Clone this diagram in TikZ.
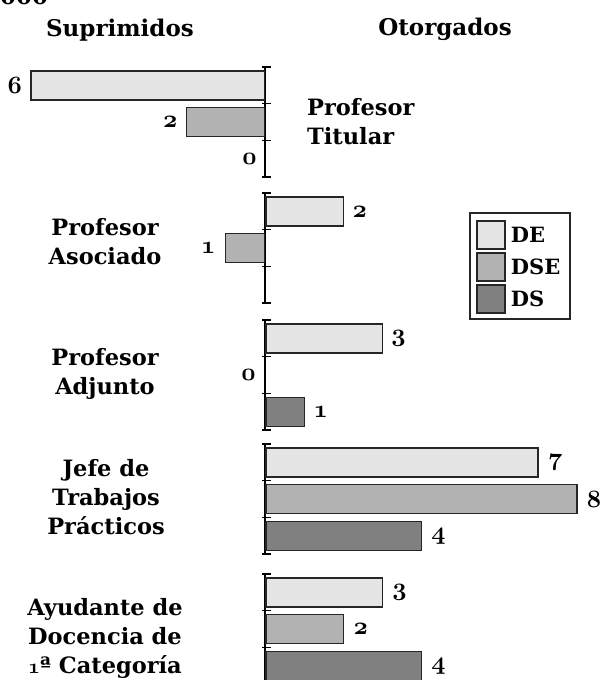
\documentclass[tikz,border=0pt]{standalone}
\usepackage{fontspec}
\usepackage{tikz}
\usetikzlibrary{positioning}
\newfontfamily\djv{DejaVu Serif}
\tikzset{
    bar/.style={
    rectangle,draw=black!85,line width=1.5pt,inner sep=0pt,minimum height=29pt
    },
    debar/.style={
    bar,fill=black!10
    },
    dsebar/.style={
    bar,fill=black!30
    },
    dsbar/.style={
    bar,fill=black!50
    },
    barlen/.style={
    minimum width=#1*38.9pt
    },
    val/.style={
    font=\fontsize{26}{28}\selectfont\bfseries,inner sep=0pt
    },
    cat/.style={
    font=\fontsize{22.5}{29}\selectfont\djv\bfseries,align=center,inner sep=0pt
    },
    head/.style={
    font=\fontsize{23}{28}\selectfont\djv\bfseries,inner sep=0pt
    },
    keytxt/.style={
    font=\fontsize{21}{24}\selectfont\djv\bfseries,inner sep=0pt
    },
    axisline/.style={
    draw=black,line width=1.8pt
    },
    tick/.style={
    draw=black,line width=1.5pt
    },
}
\newcommand{\osn}[1]{{\boldmath$\mathnormal{#1}$}}

\begin{document}
\begin{tikzpicture}[x=1pt,y=-1pt]
  \useasboundingbox (0,0) rectangle (601,680);

  % titulos
  \node[head,anchor=base west] (anio) at (0,5) {000};
  \node[head,anchor=base] (supr) at (120,36) {Suprimidos};
  \node[head,anchor=base] (otor) at (445,35) {Otorgados};

  % ejes
  \foreach \t in {67,193,320,444,574} {
    \draw[axisline] (265,\t) -- (265,\t+110);
    \foreach \k in {0,1,2,3}
      \draw[tick] (262,\t+36.7*\k) -- (271,\t+36.7*\k);
  }

  % Profesor Titular
  \node[debar,barlen=6,anchor=east] (ptde) at (265,85.5) {};
  \node[dsebar,barlen=2,anchor=east] (ptdse) at (265,122.2) {};
  \node[val,left=8pt of ptde] (ptdev) {\osn{6}};
  \node[val,left=8pt of ptdse] (ptdsev) {\osn{2}};
  \node[val,anchor=east] (ptdsv) at (257,158.9) {\osn{0}};
  \node[cat,align=left,anchor=west] (pt) at (307,122) {Profesor\\Titular};

  % Profesor Asociado
  \node[debar,barlen=2,anchor=west] (pasde) at (265,211.5) {};
  \node[dsebar,barlen=1,anchor=east] (pasdse) at (265,248.2) {};
  \node[val,right=8pt of pasde] (pasdev) {\osn{2}};
  \node[val,left=9pt of pasdse] (pasdsev) {\osn{1}};
  \node[cat] (pas) at (105,242) {Profesor\\Asociado};

  % Profesor Adjunto
  \node[debar,barlen=3,anchor=west] (padde) at (265,338.5) {};
  \node[dsbar,barlen=1,anchor=west] (padds) at (265,411.9) {};
  \node[val,right=8pt of padde] (paddev) {\osn{3}};
  \node[val,anchor=east] (paddsev) at (256,375.2) {\osn{0}};
  \node[val,right=8pt of padds] (paddsv) {\osn{1}};
  \node[cat] (pad) at (105,374) {Profesor\\Adjunto};

  % Jefe de Trabajos Practicos
  \node[debar,barlen=7,anchor=west] (jtpde) at (265,462.5) {};
  \node[dsebar,barlen=8,anchor=west] (jtpdse) at (265,499.2) {};
  \node[dsbar,barlen=4,anchor=west] (jtpds) at (265,535.9) {};
  \node[val,right=9pt of jtpde] (jtpdev) {\osn{7}};
  \node[val,right=9pt of jtpdse] (jtpdsev) {\osn{8}};
  \node[val,right=9pt of jtpds] (jtpdsv) {\osn{4}};
  \node[cat] (jtp) at (106,497) {Jefe de\\Trabajos\\Prácticos};

  % Ayudante de Docencia
  \node[debar,barlen=3,anchor=west] (addde) at (265,592.5) {};
  \node[dsebar,barlen=2,anchor=west] (adddse) at (265,629.2) {};
  \node[dsbar,barlen=4,anchor=west] (addds) at (265,665.9) {};
  \node[val,right=9pt of addde] (adddev) {\osn{3}};
  \node[val,right=9pt of adddse] (adddsev) {\osn{2}};
  \node[val,right=9pt of addds] (adddsv) {\osn{4}};
  \node[cat] (add) at (105,638) {Ayudante de\\Docencia de\\\osn{1}ª Categoría};

  % leyenda
  \draw[black!85,line width=1.2pt] (470,213) rectangle (570,319);
  \node[debar,minimum width=28pt,minimum height=28pt] (kde) at (491,235) {};
  \node[dsebar,minimum width=28pt,minimum height=28pt] (kdse) at (491,267) {};
  \node[dsbar,minimum width=28pt,minimum height=28pt] (kds) at (491,299) {};
  \node[keytxt,right=5pt of kde] (kdet) {DE};
  \node[keytxt,right=5pt of kdse] (kdset) {DSE};
  \node[keytxt,right=5pt of kds] (kdst) {DS};
\end{tikzpicture}
\end{document}
